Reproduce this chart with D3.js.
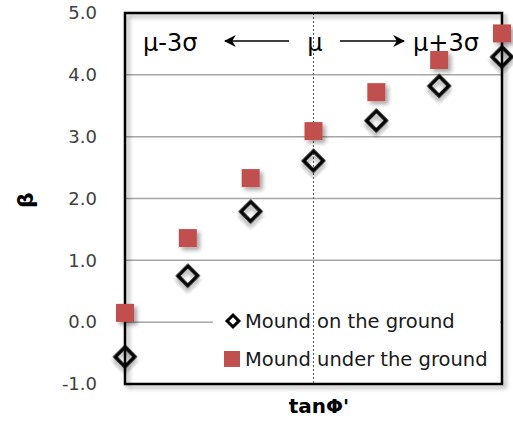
<!DOCTYPE html>
<html>
<head>
<meta charset="utf-8">
<script src="https://cdn.jsdelivr.net/npm/d3@7/dist/d3.min.js"></script>
<style>
  body { margin: 0; background: #fff; }
  text { font-family: "DejaVu Sans", Verdana, sans-serif; }
</style>
</head>
<body>
<svg id="chart" width="513" height="421"></svg>
<script>
// positions along tanΦ' from μ-3σ to μ+3σ
var positions = [-3, -2, -1, 0, 1, 2, 3];
var onGround = [-0.56, 0.75, 1.79, 2.61, 3.26, 3.82, 4.29];
var underGround = [0.15, 1.36, 2.33, 3.09, 3.72, 4.24, 4.67];
var yTicks = [-1, 0, 1, 2, 3, 4, 5];
var seriesNames = ["Mound on the ground", "Mound under the ground"];

var svg = d3.select("#chart");
var margin = { left: 125, right: 11, top: 13, bottom: 37 };
var w = 513 - margin.left - margin.right,
    h = 421 - margin.top - margin.bottom;

var x = d3.scaleLinear().domain([-3, 3]).range([0, w]);
var y = d3.scaleLinear().domain([-1, 5]).range([h, 0]);

var defs = svg.append("defs");
defs.append("filter").attr("id", "shadow")
    .attr("x", "-50%").attr("y", "-50%").attr("width", "200%").attr("height", "200%")
  .append("feDropShadow")
    .attr("dx", 3).attr("dy", 3).attr("stdDeviation", 2)
    .attr("flood-color", "#000").attr("flood-opacity", 0.35);

var g = svg.append("g").attr("transform", "translate(" + margin.left + "," + margin.top + ")");

// gridlines
g.append("g").selectAll("line")
    .data(yTicks.filter(function (d) { return d > -1 && d < 5; }))
    .join("line")
    .attr("x1", 0).attr("x2", w)
    .attr("y1", function (d) { return y(d); }).attr("y2", function (d) { return y(d); })
    .attr("stroke", "#a6a6a6").attr("stroke-width", 1.5);

// legend background (hides the gridline, not the mean line)
g.append("rect")
    .attr("x", 88).attr("y", 290).attr("width", w - 90).attr("height", 78)
    .attr("fill", "#fff");

// mean line
g.append("line")
    .attr("x1", x(0)).attr("x2", x(0)).attr("y1", 0).attr("y2", h)
    .attr("stroke", "#555").attr("stroke-width", 1).attr("stroke-dasharray", "2,2");

// frame
g.append("rect")
    .attr("width", w).attr("height", h)
    .attr("fill", "none").attr("stroke", "#000").attr("stroke-width", 2.5)
    .attr("filter", "url(#shadow)");

// y axis labels
var yAxis = d3.axisLeft(y).tickValues(yTicks)
    .tickFormat(function (d) { return d.toFixed(1); })
    .tickSize(0).tickPadding(28);
g.append("g").call(yAxis)
    .call(function (a) { a.select(".domain").remove(); })
    .selectAll("text")
    .attr("font-family", "DejaVu Sans, Verdana, sans-serif")
    .attr("font-size", 18).attr("fill", "#404040");

var diamond = d3.symbol().type(d3.symbolSquare).size(190);

// markers: under the ground (squares)
g.append("g").selectAll("rect")
    .data(positions.map(function (p, i) { return [p, underGround[i]]; }))
    .join("rect")
    .attr("x", function (d) { return x(d[0]) - 9; })
    .attr("y", function (d) { return y(d[1]) - 9; })
    .attr("width", 18).attr("height", 18)
    .attr("fill", "#c0504d")
    .attr("filter", "url(#shadow)");

// markers: on the ground (diamonds)
g.append("g").selectAll("path")
    .data(positions.map(function (p, i) { return [p, onGround[i]]; }))
    .join("path")
    .attr("d", diamond)
    .attr("transform", function (d) { return "translate(" + x(d[0]) + "," + y(d[1]) + ") rotate(45)"; })
    .attr("fill", "none").attr("stroke", "#000").attr("stroke-width", 3.5)
    .attr("filter", "url(#shadow)");

// annotations
var ann = svg.append("g").attr("font-size", 24).attr("fill", "#000");
ann.append("text").attr("x", 143).attr("y", 51).text("μ-3σ");
ann.append("text").attr("x", 315).attr("y", 51).attr("text-anchor", "middle").text("μ");
ann.append("text").attr("x", 413).attr("y", 51).text("μ+3σ");

defs.append("marker").attr("id", "head")
    .attr("viewBox", "0 0 10 10").attr("refX", 9).attr("refY", 5)
    .attr("markerWidth", 12).attr("markerHeight", 12).attr("markerUnits", "userSpaceOnUse")
    .attr("orient", "auto")
  .append("path").attr("d", "M0,0 L10,5 L0,10 L3,5 Z").attr("fill", "#000");

svg.append("line").attr("x1", 289).attr("x2", 225).attr("y1", 41).attr("y2", 41)
    .attr("stroke", "#000").attr("stroke-width", 1.5).attr("marker-end", "url(#head)");
svg.append("line").attr("x1", 340).attr("x2", 404).attr("y1", 41).attr("y2", 41)
    .attr("stroke", "#000").attr("stroke-width", 1.5).attr("marker-end", "url(#head)");

// legend
var leg = svg.append("g");
leg.append("path").attr("d", d3.symbol().type(d3.symbolSquare).size(70))
    .attr("transform", "translate(233,321) rotate(45)")
    .attr("fill", "none").attr("stroke", "#000").attr("stroke-width", 3);
leg.append("rect").attr("x", 224).attr("y", 351).attr("width", 16).attr("height", 16)
    .attr("fill", "#c0504d");
leg.selectAll("text").data(seriesNames).join("text")
    .attr("x", 245).attr("y", function (d, i) { return 328 + i * 38; })
    .attr("font-family", "Open Sans, sans-serif")
    .attr("font-size", 19.5).attr("fill", "#1a1a1a")
    .text(function (d) { return d; });

// axis titles
svg.append("text").attr("x", 319).attr("y", 413).attr("text-anchor", "middle")
    .attr("font-family", "Open Sans, sans-serif").attr("font-weight", "bold").attr("font-size", 20)
    .text("tanΦ'");
svg.append("text").attr("transform", "translate(33,200) rotate(-90)").attr("text-anchor", "middle")
    .attr("font-weight", "bold").attr("font-size", 22)
    .text("β");
</script>
</body>
</html>
